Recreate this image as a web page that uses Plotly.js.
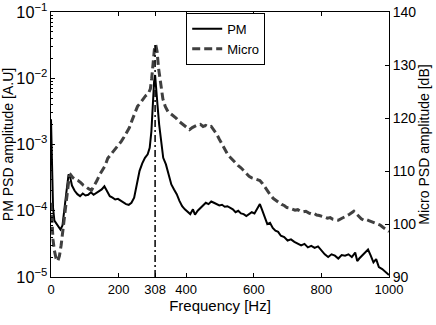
<!DOCTYPE html>
<html>
<head>
<meta charset="utf-8">
<script src="https://cdn.plot.ly/plotly-3.0.1.min.js"></script>
<style>
  html, body { margin: 0; padding: 0; background: #fff; }
  #chart { width: 436px; height: 325px; }
</style>
</head>
<body>
<div id="chart"></div>
<script>
/* PM PSD, left log axis [A.U] */
var freqPM = [0, 3, 6, 10, 16, 22, 28, 34, 40, 46, 52, 57, 62, 70, 78, 86, 94, 102, 110, 118,
    126, 134, 142, 150, 158, 166, 174, 182, 190, 198, 206, 214, 222, 230, 238, 246, 254, 262, 270, 278,
    286, 292, 297, 301, 305, 308, 311, 315, 320, 326, 332, 340, 348, 356, 364, 372, 380, 388, 396, 404,
    412, 420, 426, 434, 442, 450, 458, 466, 474, 482, 490, 498, 506, 514, 522, 530, 538, 546, 554, 562,
    570, 578, 586, 594, 602, 610, 618, 624, 632, 640, 648, 656, 664, 672, 680, 690, 700, 710, 720, 730,
    740, 750, 760, 770, 780, 790, 800, 810, 820, 830, 840, 850, 860, 870, 880, 890, 900, 906, 912, 920,
    930, 938, 946, 954, 962, 970, 980, 990, 1000];
var pmPsd = [2.4e-3, 4.0e-4, 1.12e-4, 7.1e-5, 6.3e-5, 5.6e-5, 5.2e-5, 6.0e-5, 1.0e-4, 2.0e-4, 3.55e-4, 3.16e-4, 2.4e-4, 2.0e-4, 1.78e-4, 1.66e-4, 1.82e-4, 1.7e-4, 1.74e-4, 1.9e-4,
    1.74e-4, 1.86e-4, 2.0e-4, 2.1e-4, 2.34e-4, 2.0e-4, 1.66e-4, 1.58e-4, 1.48e-4, 1.51e-4, 1.41e-4, 1.35e-4, 1.26e-4, 1.23e-4, 1.32e-4, 1.58e-4, 2.5e-4, 4.0e-4, 5.2e-4, 6.3e-4,
    7.1e-4, 8.9e-4, 1.58e-3, 4.0e-3, 8.9e-3, 1.12e-2, 7.9e-3, 4.0e-3, 2.0e-3, 1.0e-3, 6.3e-4, 5.0e-4, 3.55e-4, 2.5e-4, 2.1e-4, 1.78e-4, 1.41e-4, 1.17e-4, 1.05e-4, 9.5e-5,
    8.9e-5, 1.05e-4, 8.7e-5, 1.0e-4, 1.1e-4, 1.2e-4, 1.32e-4, 1.26e-4, 1.38e-4, 1.32e-4, 1.26e-4, 1.2e-4, 1.23e-4, 1.15e-4, 1.17e-4, 1.1e-4, 1.05e-4, 9.5e-5, 1.0e-4, 9.1e-5,
    8.9e-5, 8.3e-5, 8.9e-5, 9.5e-5, 9.1e-5, 1.1e-4, 1.26e-4, 1.05e-4, 7.9e-5, 6.3e-5, 6.6e-5, 5.5e-5, 5.0e-5, 4.8e-5, 4.2e-5, 4.0e-5, 3.55e-5, 3.7e-5, 3.4e-5, 3.16e-5,
    3.0e-5, 3.16e-5, 2.8e-5, 2.95e-5, 2.75e-5, 2.9e-5, 2.5e-5, 2.2e-5, 2.0e-5, 2.2e-5, 2.1e-5, 1.9e-5, 2.14e-5, 2.1e-5, 2.2e-5, 2.0e-5, 2.34e-5, 1.74e-5, 1.9e-5, 2.1e-5,
    2.4e-5, 2.6e-5, 2.1e-5, 1.66e-5, 1.86e-5, 1.41e-5, 1.32e-5, 1.2e-5, 1.07e-5];

/* microphone PSD, right axis [dB] */
var freqMicro = [0, 3, 6, 10, 15, 20, 25, 30, 36, 42, 48, 54, 58, 64, 72, 80, 88, 96, 104, 112,
    120, 128, 136, 144, 152, 160, 168, 176, 184, 192, 200, 208, 216, 224, 232, 240, 248, 256, 264, 272,
    280, 288, 294, 298, 302, 306, 310, 314, 318, 322, 326, 331, 338, 346, 354, 362, 370, 378, 386, 394,
    402, 410, 418, 426, 434, 442, 450, 458, 466, 474, 482, 490, 498, 506, 514, 522, 530, 538, 546, 554,
    562, 570, 578, 586, 594, 602, 610, 618, 626, 634, 642, 650, 658, 666, 674, 682, 690, 698, 706, 714,
    722, 730, 738, 746, 754, 762, 770, 778, 786, 794, 802, 810, 818, 826, 834, 842, 850, 858, 866, 874,
    882, 890, 896, 902, 910, 918, 926, 934, 942, 950, 958, 966, 974, 982, 990, 1000];
var microDb = [104, 100, 97, 95, 93.5, 93, 94, 96, 99, 102, 106, 109, 109.3, 108.8, 108.4, 108.2, 107.8, 107.3, 107, 106.6,
    106.4, 107.2, 108.2, 109.3, 110.2, 111, 112.4, 113, 113.6, 114.4, 115, 115.6, 116.4, 117.2, 118.2, 119.6, 120.8, 122.2, 122.8, 123.5,
    124.2, 124.6, 125.5, 127.5, 130.5, 133, 133.8, 132.5, 129.5, 127.5, 125, 123.6, 122.2, 121.2, 120.8, 120.4, 120, 119.4, 119, 118.6,
    118.1, 117.8, 118.2, 118.5, 118.7, 118.8, 118.4, 118.6, 118.3, 118.4, 117.8, 117, 116, 115, 114, 113.2, 112.6, 112, 111.5, 111,
    110.6, 110, 109.4, 109, 108.7, 108.5, 108.4, 108.2, 107.6, 106.8, 106.2, 105.4, 104.8, 104.4, 104.1, 103.7, 103.5, 103.1, 103, 102.8,
    102.6, 102.7, 102.4, 102.3, 102.4, 102.1, 101.9, 102, 101.7, 101.6, 101.5, 101.3, 101.1, 101.2, 100.9, 100.8, 100.7, 101, 101.2, 101.5,
    101.8, 102.2, 102.4, 102, 101.4, 101, 100.7, 100.8, 100.6, 100.4, 100.2, 100.1, 99.8, 99.4, 99.1, 98.6];

/* resonance marker at 308 Hz */
var markFreq = [308, 308];
var markDb = [90, 133.8];

var xTicks = [0, 200, 308, 400, 600, 800, 1000];

var FAMILY = '"Liberation Sans", Arial, sans-serif';
var TICK_FONT = {family: FAMILY, size: 12, color: '#000'};
var TITLE_FONT = {family: FAMILY, size: 14, color: '#000'};

var traces = [
{
    x: freqPM,
    y: pmPsd,
    type: 'scatter',
    mode: 'lines',
    name: 'PM',
    line: {color: '#000', width: 2},
    yaxis: 'y'
},
{
    x: freqMicro,
    y: microDb,
    type: 'scatter',
    mode: 'lines',
    name: 'Micro',
    line: {color: '#404040', width: 3, dash: '8px,4px'},
    yaxis: 'y2'
},
{
    x: markFreq,
    y: markDb,
    type: 'scatter',
    mode: 'lines',
    showlegend: false,
    line: {color: '#000', width: 1.5, dash: '7px,3px,2px,3px'},
    yaxis: 'y2'
}];

var layout = {
    width: 436,
    height: 325,
    margin: {l: 51, r: 47, t: 12, b: 48},
    paper_bgcolor: '#fff',
    plot_bgcolor: '#fff',
    font: TICK_FONT,
    showlegend: true,
    legend: {
        x: 0.40, y: 0.997, xanchor: 'left', yanchor: 'top',
        bordercolor: '#000', borderwidth: 1, bgcolor: '#fff',
        itemwidth: 30, tracegroupgap: 0,
        font: {family: FAMILY, size: 13, color: '#000'}
    },
    xaxis: {
        range: [0, 1000],
        tickvals: xTicks,
        ticktext: xTicks.map(String),
        ticks: 'inside', ticklen: 4, tickcolor: '#000',
        tickfont: {family: FAMILY, size: 13, color: '#000'},
        showline: true, linecolor: '#000', linewidth: 1, mirror: 'ticks',
        showgrid: false, zeroline: false,
        title: {text: 'Frequency [Hz]', font: {family: FAMILY, size: 15, color: '#000'}, standoff: 3}
    },
    yaxis: {
        type: 'log',
        range: [-5, -1],
        dtick: 1,
        exponentformat: 'power',
        ticks: 'inside', ticklen: 4, tickcolor: '#000',
        tickfont: {family: FAMILY, size: 13, color: '#000'},
        minor: {ticks: 'inside', ticklen: 2, tickcolor: '#000', showgrid: false},
        showline: true, linecolor: '#000', linewidth: 1,
        showgrid: false, zeroline: false,
        title: {text: 'PM PSD amplitude [A.U]', font: TITLE_FONT, standoff: 2}
    },
    yaxis2: {
        overlaying: 'y',
        side: 'right',
        range: [90, 140],
        dtick: 10,
        ticks: 'inside', ticklen: 4, tickcolor: '#000',
        tickfont: {family: FAMILY, size: 14, color: '#000'},
        showline: true, linecolor: '#000', linewidth: 1,
        showgrid: false, zeroline: false,
        title: {text: 'Micro PSD amplitude [dB]', font: TITLE_FONT, standoff: 2}
    }
};

Plotly.newPlot('chart', traces, layout, {displayModeBar: false, staticPlot: true});
</script>
</body>
</html>
